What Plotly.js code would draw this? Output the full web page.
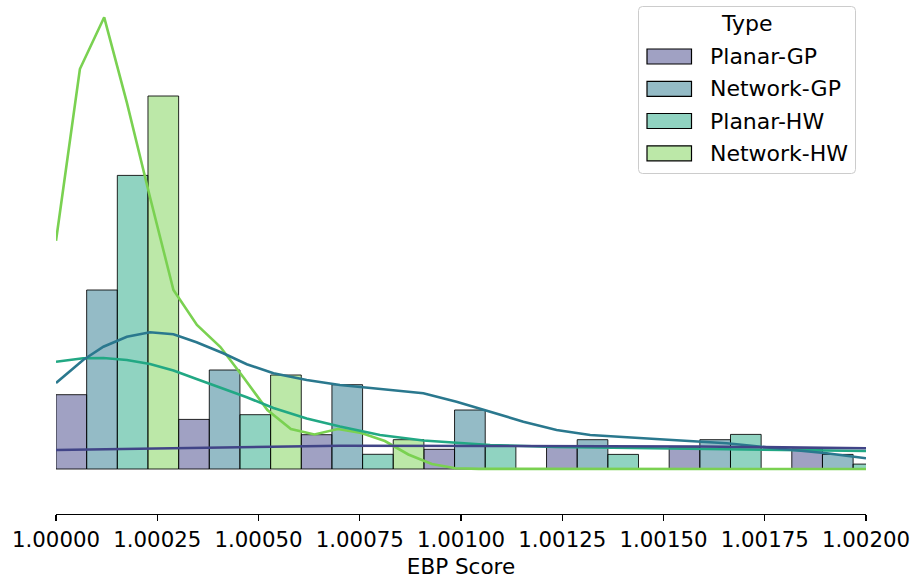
<!DOCTYPE html>
<html>
<head>
<meta charset="utf-8">
<script src="https://cdn.plot.ly/plotly-3.0.1.min.js"></script>
<style>
html, body { margin: 0; padding: 0; background: #ffffff; }
#chart { width: 913px; height: 580px; }
</style>
</head>
<body>
<div id="chart"></div>
<script>
// ---------------- DATA ----------------
const seriesNames = ['Planar-GP', 'Network-GP', 'Planar-HW', 'Network-HW'];
const binCenters = [1.0001514, 1.0004542, 1.0007570, 1.0010598, 1.0013626, 1.0016654, 1.0019682];

// histogram heights (density, arbitrary units)
const planarGP  = [7.43, 4.96, 3.43, 1.97, 2.23, 2.20, 2.00];
const networkGP = [17.9, 9.90, 8.43, 5.90, 2.93, 2.93, 1.46];
const planarHW  = [29.36, 5.43, 1.47, 2.25, 1.46, 3.46, 0.49];
const networkHW = [37.3, 9.40, 2.93, 0, 0, 0, 0];

// KDE curves
const kdeX_planarGP = [1.000000, 1.000356, 1.000701, 1.001096, 1.001590, 1.002000];
const kdeY_planarGP = [1.90, 2.13, 2.33, 2.30, 2.25, 2.07];

const kdeX_networkGP = [1.000000, 1.000067, 1.000117, 1.000175, 1.000232, 1.000290, 1.000347, 1.000413,
  1.000471, 1.000537, 1.000619, 1.000701, 1.000783, 1.000907, 1.000989, 1.001072, 1.001154, 1.001236,
  1.001319, 1.001491, 1.001656, 1.001820, 1.001903, 1.002000];
const kdeY_networkGP = [8.60, 10.90, 12.23, 13.23, 13.67, 13.47, 12.67, 11.57,
  10.47, 9.57, 8.90, 8.40, 8.07, 7.57, 6.73, 5.73, 4.73, 3.90,
  3.40, 2.97, 2.57, 1.90, 1.57, 1.07];

const kdeX_planarHW = [1.000000, 1.000067, 1.000117, 1.000175, 1.000232, 1.000290, 1.000347, 1.000413,
  1.000471, 1.000537, 1.000619, 1.000701, 1.000800, 1.000907, 1.000989, 1.001072, 1.001236, 1.001491,
  1.001738, 1.002000];
const kdeY_planarHW = [10.73, 11.07, 11.10, 10.90, 10.50, 9.85, 9.00, 8.05,
  7.17, 6.10, 5.05, 4.25, 3.40, 2.85, 2.60, 2.40, 2.20, 2.05,
  1.95, 1.80];

const kdeX_networkHW = [1.000000, 1.000059, 1.000119, 1.000175, 1.000232, 1.000290, 1.000348, 1.000406,
  1.000464, 1.000522, 1.000580, 1.000638, 1.000696, 1.000754, 1.000812, 1.000870, 1.000928, 1.000986,
  1.001044, 1.001500, 1.002100];
const kdeY_networkHW = [22.83, 40.00, 45.17, 36.63, 27.20, 17.90, 14.40, 12.20,
  9.10, 5.90, 4.00, 3.45, 4.00, 3.60, 2.80, 1.45, 0.50, 0.07,
  0.01, 0.00, 0.00];

const xTickVals = [1.00000, 1.00025, 1.00050, 1.00075, 1.00100, 1.00125, 1.00150, 1.00175, 1.00200];

// ---------------- STYLE ----------------
const lineColors = ['#414487', '#2a788e', '#22a884', '#7ad151'];
const fillColors = ['rgba(65,68,135,0.5)', 'rgba(42,120,142,0.5)', 'rgba(34,168,132,0.5)', 'rgba(122,209,81,0.5)'];
const FONT = 'DejaVu Sans, Verdana, sans-serif';

const M = { l: 56, r: 47, t: 5, b: 66 };
const W = 913 - M.l - M.r, H = 580 - M.t - M.b;
const px2x = p => (p - M.l) / W;
const px2y = p => (580 - M.b - p) / H;

const barSeries = [planarGP, networkGP, planarHW, networkHW];
const kdeSeries = [
  [kdeX_planarGP, kdeY_planarGP],
  [kdeX_networkGP, kdeY_networkGP],
  [kdeX_planarHW, kdeY_planarHW],
  [kdeX_networkHW, kdeY_networkHW]
];

const traces = [];
barSeries.forEach((vals, i) => {
  traces.push({
    type: 'bar', x: binCenters, y: vals, name: seriesNames[i],
    marker: { color: fillColors[i], line: { color: 'rgba(0,0,0,0.85)', width: 1 } },
    showlegend: false, hoverinfo: 'x+y+name'
  });
});
// KDE lines drawn in reverse hue order (last level at the bottom)
for (let i = kdeSeries.length - 1; i >= 0; i--) {
  traces.push({
    type: 'scatter', mode: 'lines', x: kdeSeries[i][0], y: kdeSeries[i][1],
    name: seriesNames[i] + ' KDE', line: { color: lineColors[i], width: 2.6 },
    showlegend: false
  });
}

// ---------------- custom legend (matplotlib-like) ----------------
const shapes = [];
const annotations = [];
const box = { x0: 638.5, x1: 855.5, y0: 6.5, y1: 173.5, r: 4 };
function roundRectPath(b) {
  const X = px2x, Y = px2y, r = b.r;
  return 'M' + X(b.x0 + r) + ',' + Y(b.y0) +
    ' L' + X(b.x1 - r) + ',' + Y(b.y0) +
    ' Q' + X(b.x1) + ',' + Y(b.y0) + ' ' + X(b.x1) + ',' + Y(b.y0 + r) +
    ' L' + X(b.x1) + ',' + Y(b.y1 - r) +
    ' Q' + X(b.x1) + ',' + Y(b.y1) + ' ' + X(b.x1 - r) + ',' + Y(b.y1) +
    ' L' + X(b.x0 + r) + ',' + Y(b.y1) +
    ' Q' + X(b.x0) + ',' + Y(b.y1) + ' ' + X(b.x0) + ',' + Y(b.y1 - r) +
    ' L' + X(b.x0) + ',' + Y(b.y0 + r) +
    ' Q' + X(b.x0) + ',' + Y(b.y0) + ' ' + X(b.x0 + r) + ',' + Y(b.y0) + ' Z';
}
shapes.push({
  type: 'path', xref: 'paper', yref: 'paper', path: roundRectPath(box),
  fillcolor: 'rgba(255,255,255,0.85)', line: { color: '#cccccc', width: 1 }, layer: 'above'
});
annotations.push({
  xref: 'paper', yref: 'paper', x: px2x(747), y: px2y(24), xanchor: 'center', yanchor: 'middle',
  text: 'Type', showarrow: false, font: { family: FONT, size: 22, color: '#000' }
});
const rowY = [56.5, 88.8, 121.0, 153.3];
seriesNames.forEach((nm, i) => {
  shapes.push({
    type: 'rect', xref: 'paper', yref: 'paper',
    x0: px2x(647), x1: px2x(691.5), y0: px2y(rowY[i] + 7.5), y1: px2y(rowY[i] - 7.5),
    fillcolor: fillColors[i], line: { color: '#000', width: 1.2 }, layer: 'above'
  });
  annotations.push({
    xref: 'paper', yref: 'paper', x: px2x(708), y: px2y(rowY[i]), xanchor: 'left', yanchor: 'middle',
    text: nm, showarrow: false, font: { family: FONT, size: 22, color: '#000' }
  });
});

const layout = {
  width: 913, height: 580,
  margin: M,
  paper_bgcolor: '#ffffff', plot_bgcolor: '#ffffff',
  barmode: 'group', bargap: 0, bargroupgap: 0,
  showlegend: false,
  font: { family: FONT, size: 21, color: '#000' },
  xaxis: {
    range: [1.0, 1.002], tickvals: xTickVals, tickformat: '.5f',
    showgrid: false, zeroline: false, showline: true, linecolor: '#000', linewidth: 1.3,
    ticks: 'outside', ticklen: 6, tickwidth: 1.3, tickcolor: '#000',
    tickfont: { family: FONT, size: 21.3, color: '#000' },
    title: { text: 'EBP Score', font: { family: FONT, size: 21.5, color: '#000' }, standoff: 8 }
  },
  yaxis: {
    range: [-4.5, 46.4], visible: false, showgrid: false, zeroline: false
  },
  shapes: shapes,
  annotations: annotations
};

Plotly.newPlot('chart', traces, layout, { displayModeBar: false, staticPlot: true });
</script>
</body>
</html>
